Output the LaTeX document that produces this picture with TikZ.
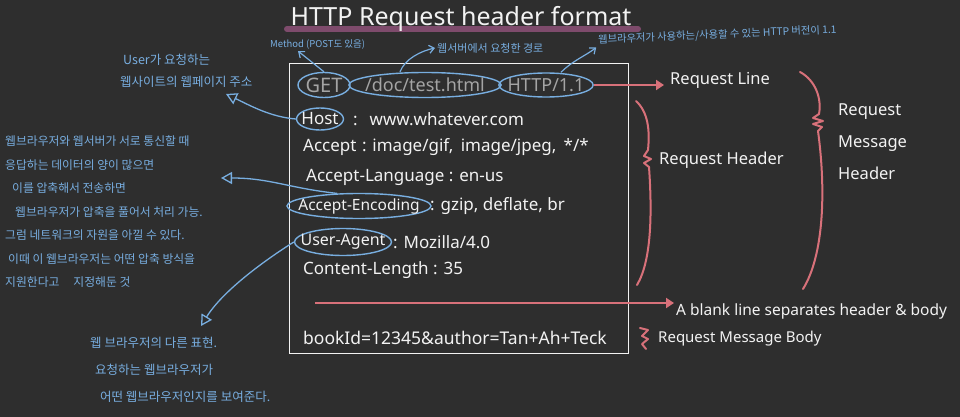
\documentclass[tikz,border=0pt]{standalone}
\usepackage{fontspec}
\setmainfont{Noto Sans}
\newfontfamily\cjk{Noto Sans CJK KR}
\usetikzlibrary{arrows.meta,shapes.geometric}
\definecolor{bg}{HTML}{2E2E2E}
\definecolor{ink}{HTML}{F2F2F2}
\definecolor{dim}{HTML}{A4A4A4}
\definecolor{blu}{HTML}{78AEE0}
\definecolor{pnk}{HTML}{D8717A}
\definecolor{plum}{HTML}{7E4B6C}
\begin{document}
\begin{tikzpicture}[x=1pt,y=-1pt,
  txt/.style={text=ink, inner sep=0pt, anchor=west, font=\fontsize{17}{20}\selectfont},
  ann/.style={text=blu, inner sep=0pt, anchor=west, font=\cjk\fontsize{12}{14}\selectfont},
  ell/.style={draw=blu, line width=1.4pt, ellipse, inner sep=0pt},
  barrow/.style={draw=blu, line width=1.2pt, -{Straight Barb[length=5pt,width=8pt]}},
  oarrow/.style={draw=blu, line width=1.3pt, -{Triangle[open,length=11pt,width=12pt]}},
  parrow/.style={draw=pnk, line width=2.2pt, -{Triangle[length=8pt,width=10pt]}},
  brc/.style={draw=pnk, line width=2pt, line join=round, line cap=round}]
\fill[bg] (0,0) rectangle (960,417);
\useasboundingbox (0,0) rectangle (960,417);
% title
\draw[plum, line width=6pt, line cap=round] (287,29) -- (638,29);
\node[text=ink, font=\fontsize{25}{28}\selectfont, inner sep=0pt, anchor=base] (title) at (461,26) {HTTP Request header format};
% box
\node[draw=ink, line width=1.4pt, minimum width=339pt, minimum height=290pt, inner sep=0pt, anchor=north west] (box) at (289,63) {};
% request line
\node[ell, minimum width=52pt, minimum height=25pt, text=dim, font=\fontsize{20}{22}\selectfont] (get) at (324,85) {GET};
\node[ell, minimum width=150pt, minimum height=25pt, inner xsep=-6pt, text=dim, font=\fontsize{18}{20}\selectfont] (path) at (425,85) {/doc/test.html};
\node[ell, minimum width=90pt, minimum height=24pt, inner xsep=-5pt, text=dim, font=\fontsize{18}{20}\selectfont] (http) at (546,85) {HTTP/1.1};
% headers
\node[ell, minimum width=46pt, minimum height=22pt, inner xsep=-2pt, text=ink, font=\fontsize{17}{20}\selectfont] (host) at (320,119) {Host};
\node[txt] (hostv) at (353,119) {:\hspace{12pt}www.whatever.com};
\node[txt] (acc) at (303,147) {Accept\,\,:\,\,image/gif,\, image/jpeg,\, */*};
\node[txt] (lang) at (306,177) {Accept-Language : en-us};
\node[ell, minimum width=144pt, minimum height=25pt, inner xsep=-14pt, inner ysep=-3pt, text=ink, font=\fontsize{15.5}{18}\selectfont] (aenc) at (359,206) {Accept-Encoding};
\node[txt] (aencv) at (430,206) {: gzip, deflate, br};
\node[ell, minimum width=97pt, minimum height=27pt, inner xsep=-10pt, inner ysep=-3pt, text=ink, font=\fontsize{16}{18}\selectfont] (uag) at (343,242) {User-Agent};
\node[txt] (uagv) at (393,242) {: Mozilla/4.0};
\node[txt] (clen) at (303,270) {Content-Length : 35};
\coordinate (blank0) at (315,303);
\node[txt, font=\fontsize{17.5}{20}\selectfont] (body) at (303,338) {bookId=12345\&author=Tan+Ah+Teck};
% right side
\node[txt, font=\fontsize{16.5}{20}\selectfont] (rline) at (670,80) {Request Line};
\draw[parrow] (http.east) -- ([xshift=-6pt]rline.west |- http.east);
\node[txt, font=\fontsize{16.5}{20}\selectfont] (rhdr) at (659,160) {Request Header};
\node[txt, align=left, font=\fontsize{16.5}{32}\selectfont] (rmh) at (838,142) {Request\\Message\\Header};
\node[txt, font=\fontsize{15.5}{18}\selectfont] (blank) at (676,311) {A blank line separates header \& body};
\draw[parrow] (blank0) -- ([xshift=-2pt]blank.west |- blank0);
\node[txt, font=\fontsize{15}{18}\selectfont] (rbody) at (658,339) {Request Message Body};
% braces
\draw[brc] (636,101) .. controls (648,112) and (650,130) .. (648,150) -- (644,156) -- (651,159) -- (644,163) -- (649,167) .. controls (652,210) and (652,260) .. (637,285);
\draw[brc] (800,72) .. controls (815,80) and (822,98) .. (819,114) -- (813,118) -- (823,121) -- (813,124) -- (822,127) -- (818,131) .. controls (826,190) and (824,255) .. (803,289);
\draw[brc] (640,328) -- (648,330) -- (642,336) -- (648,339) -- (642,344) -- (646,349);
% annotations
\node[ann, font=\cjk\fontsize{9.5}{11}\selectfont] (method) at (270,45) {Method (POST도 있음)};
\node[ann, font=\cjk\fontsize{11}{13}\selectfont] (pathlbl) at (437,48) {웹서버에서 요청한 경로};
\node[ann, font=\cjk\fontsize{10.3}{12}\selectfont, rotate=2.5] (verlbl) at (598,40) {웹브라우저가 사용하는/사용할 수 있는 HTTP 버전이 1.1};
\node[ann, font=\cjk\fontsize{12.5}{14}\selectfont] (user1) at (123,60) {User가 요청하는};
\node[ann, font=\cjk\fontsize{12.5}{14}\selectfont] (user2) at (120,82) {웹사이트의 웹페이지 주소};
\node[ann, align=left, font=\cjk\fontsize{11.8}{23.5}\selectfont] (enc) at (5,212) {웹브라우저와 웹서버가 서로 통신할 때\\응답하는 데이터의 양이 많으면\\\hspace*{7pt}이를 압축해서 전송하면\\\hspace*{10pt}웹브라우저가 압축을 풀어서 처리 가능.\\그럼 네트워크의 자원을 아낄 수 있다.\\\hspace*{3pt}이때 이 웹브라우저는 어떤 압축 방식을\\지원한다고\hspace{14pt}지정해둔 것};
\node[ann, align=left, font=\cjk\fontsize{12.5}{27}\selectfont] (uaexp) at (90,370) {웹 브라우저의 다른 표현.\\\hspace*{5pt}요청하는 웹브라우저가\\\hspace*{10pt}어떤 웹브라우저인지를 보여준다.};
\coordinate (userTip) at (226,94);
\coordinate (encTip) at (221,178);
\coordinate (uaTip) at (201,326);
% blue connectors
\draw[barrow] (get.north) -- ([xshift=28pt,yshift=-1pt]method.south west);
\draw[barrow] ([xshift=-25pt]path.north) .. controls +(5,-13) and +(-14,3) .. ([xshift=-2pt]pathlbl.west);
\draw[barrow] ([xshift=15pt]http.north) .. controls +(12,-12) and +(-10,8) .. ([xshift=-2pt,yshift=-2pt]verlbl.south west);
\draw[oarrow] (host.west) .. controls +(-25,-2) and +(25,12) .. (userTip);
\draw[oarrow] (aenc.150) .. controls (288,188) and (270,178) .. (encTip);
\draw[oarrow] (uag.west) .. controls (262,262) and (222,292) .. (uaTip);
\end{tikzpicture}
\end{document}
